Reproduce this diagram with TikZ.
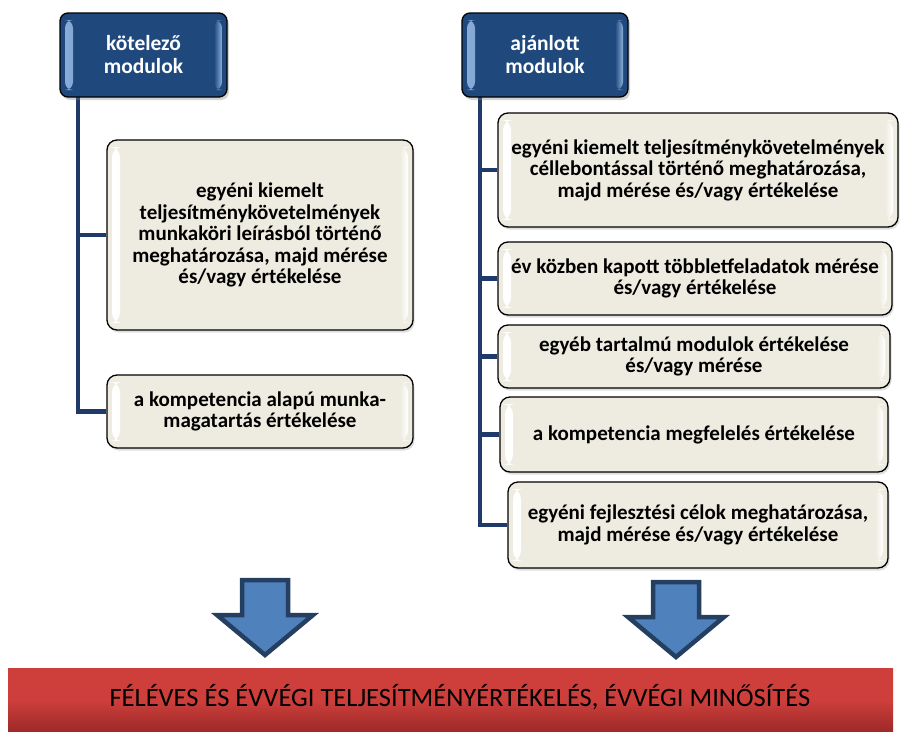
\documentclass[tikz,border=0pt]{standalone}
\usepackage{fontspec}
\setmainfont{Carlito}
\usetikzlibrary{shadows}
\definecolor{hdrblue}{RGB}{31,73,125}
\definecolor{hdrlight}{RGB}{140,175,220}
\definecolor{tanbox}{RGB}{238,236,225}
\definecolor{trunkblue}{RGB}{31,58,104}
\definecolor{arrowfill}{RGB}{79,129,189}
\definecolor{arrowedge}{RGB}{36,63,96}
\definecolor{bartop}{RGB}{206,63,60}
\definecolor{barbot}{RGB}{158,42,40}
\begin{document}
\begin{tikzpicture}[x=1pt,y=-1pt,
  bevel/.style 2 args={path picture={
      \shade[left color=#1,right color=#2]
        ([xshift=5pt,yshift=-7pt]path picture bounding box.north west)
        rectangle ([xshift=13pt,yshift=7pt]path picture bounding box.south west);
      \shade[left color=#2,right color=#1]
        ([xshift=-13pt,yshift=-7pt]path picture bounding box.north east)
        rectangle ([xshift=-5pt,yshift=7pt]path picture bounding box.south east);
  }},
  header/.style={draw=black, line width=1.3pt, rounded corners=8pt,
    fill=hdrblue, text=white, align=center, inner sep=0pt,
    font=\bfseries\fontsize{21.5}{23}\selectfont,
    bevel={hdrlight}{hdrblue},
    drop shadow={opacity=0.35, shadow xshift=2pt, shadow yshift=-3pt}},
  item/.style={draw=black, line width=1.3pt, rounded corners=10pt,
    fill=tanbox, text=black, align=center, inner sep=0pt,
    font=\bfseries\fontsize{21}{21.5}\selectfont,
    bevel={white}{tanbox},
    drop shadow={opacity=0.25, shadow xshift=1.5pt, shadow yshift=-2.5pt}},
  trunk/.style={draw=trunkblue, line width=4.5pt},
  downarrow/.pic={
    \draw[fill=arrowfill, draw=arrowedge, line width=4.5pt, line join=miter]
      (-23,0) -- (23,0) -- (23,35) -- (48,35) -- (0,75) -- (-48,35)
      -- (-23,35) -- cycle;
  }
]
\useasboundingbox (0,0) rectangle (901,731);

% column trunks
\coordinate (trunkL) at (78,0);
\coordinate (trunkR) at (480,0);

% left column
\node[item, minimum width=306pt, minimum height=190pt] (L1) at (260,235)
  {egyéni kiemelt\\teljesítménykövetelmények\\munkaköri leírásból történő\\meghatározása, majd mérése\\és/vagy értékelése};
\node[item, minimum width=306pt, minimum height=73pt] (L2) at (260,411.5)
  {a kompetencia alapú munka-\\magatartás értékelése};

% right column
\node[item, minimum width=400pt, minimum height=114pt] (R1) at (698,170)
  {egyéni kiemelt teljesítménykövetelmények\\céllebontással történő meghatározása,\\majd mérése és/vagy értékelése};
\node[item, minimum width=394pt, minimum height=73pt] (R2) at (695,278.5)
  {év közben kapott többletfeladatok mérése\\és/vagy értékelése};
\node[item, minimum width=392pt, minimum height=63pt] (R3) at (694,356.5)
  {egyéb tartalmú modulok értékelése\\és/vagy mérése};
\node[item, minimum width=388pt, minimum height=75pt] (R4) at (694,434.5)
  {a kompetencia megfelelés értékelése};
\node[item, minimum width=380pt, minimum height=86pt] (R5) at (698,525)
  {egyéni fejlesztési célok meghatározása,\\majd mérése és/vagy értékelése};

% connector trees
\draw[trunk] (trunkL |- 0,90) |- (L2.west);
\draw[trunk] (trunkL |- L1.west) -- (L1.west);
\draw[trunk] (trunkR |- 0,90) |- (R5.west);
\foreach \b in {R1,R2,R3,R4}
  \draw[trunk] (trunkR |- \b.west) -- (\b.west);

% headers
\node[header, minimum width=167pt, minimum height=84pt] (hdrL) at (143.5,55)
  {kötelező\\modulok};
\node[header, minimum width=166pt, minimum height=84pt] (hdrR) at (545,55)
  {ajánlott\\modulok};

% block arrows
\pic at (265,580) {downarrow};
\pic at (676,582) {downarrow};

% result bar
\node[inner sep=0pt, minimum width=885pt, minimum height=63pt,
  top color=bartop, bottom color=barbot, middle color=bartop,
  shading angle=0] (bar) at (450.5,699.5) {};
\node[font=\fontsize{26.5}{28}\selectfont, text=black] (barText) at (460,697)
  {FÉLÉVES ÉS ÉVVÉGI TELJESÍTMÉNYÉRTÉKELÉS, ÉVVÉGI MINŐSÍTÉS};
\end{tikzpicture}
\end{document}
